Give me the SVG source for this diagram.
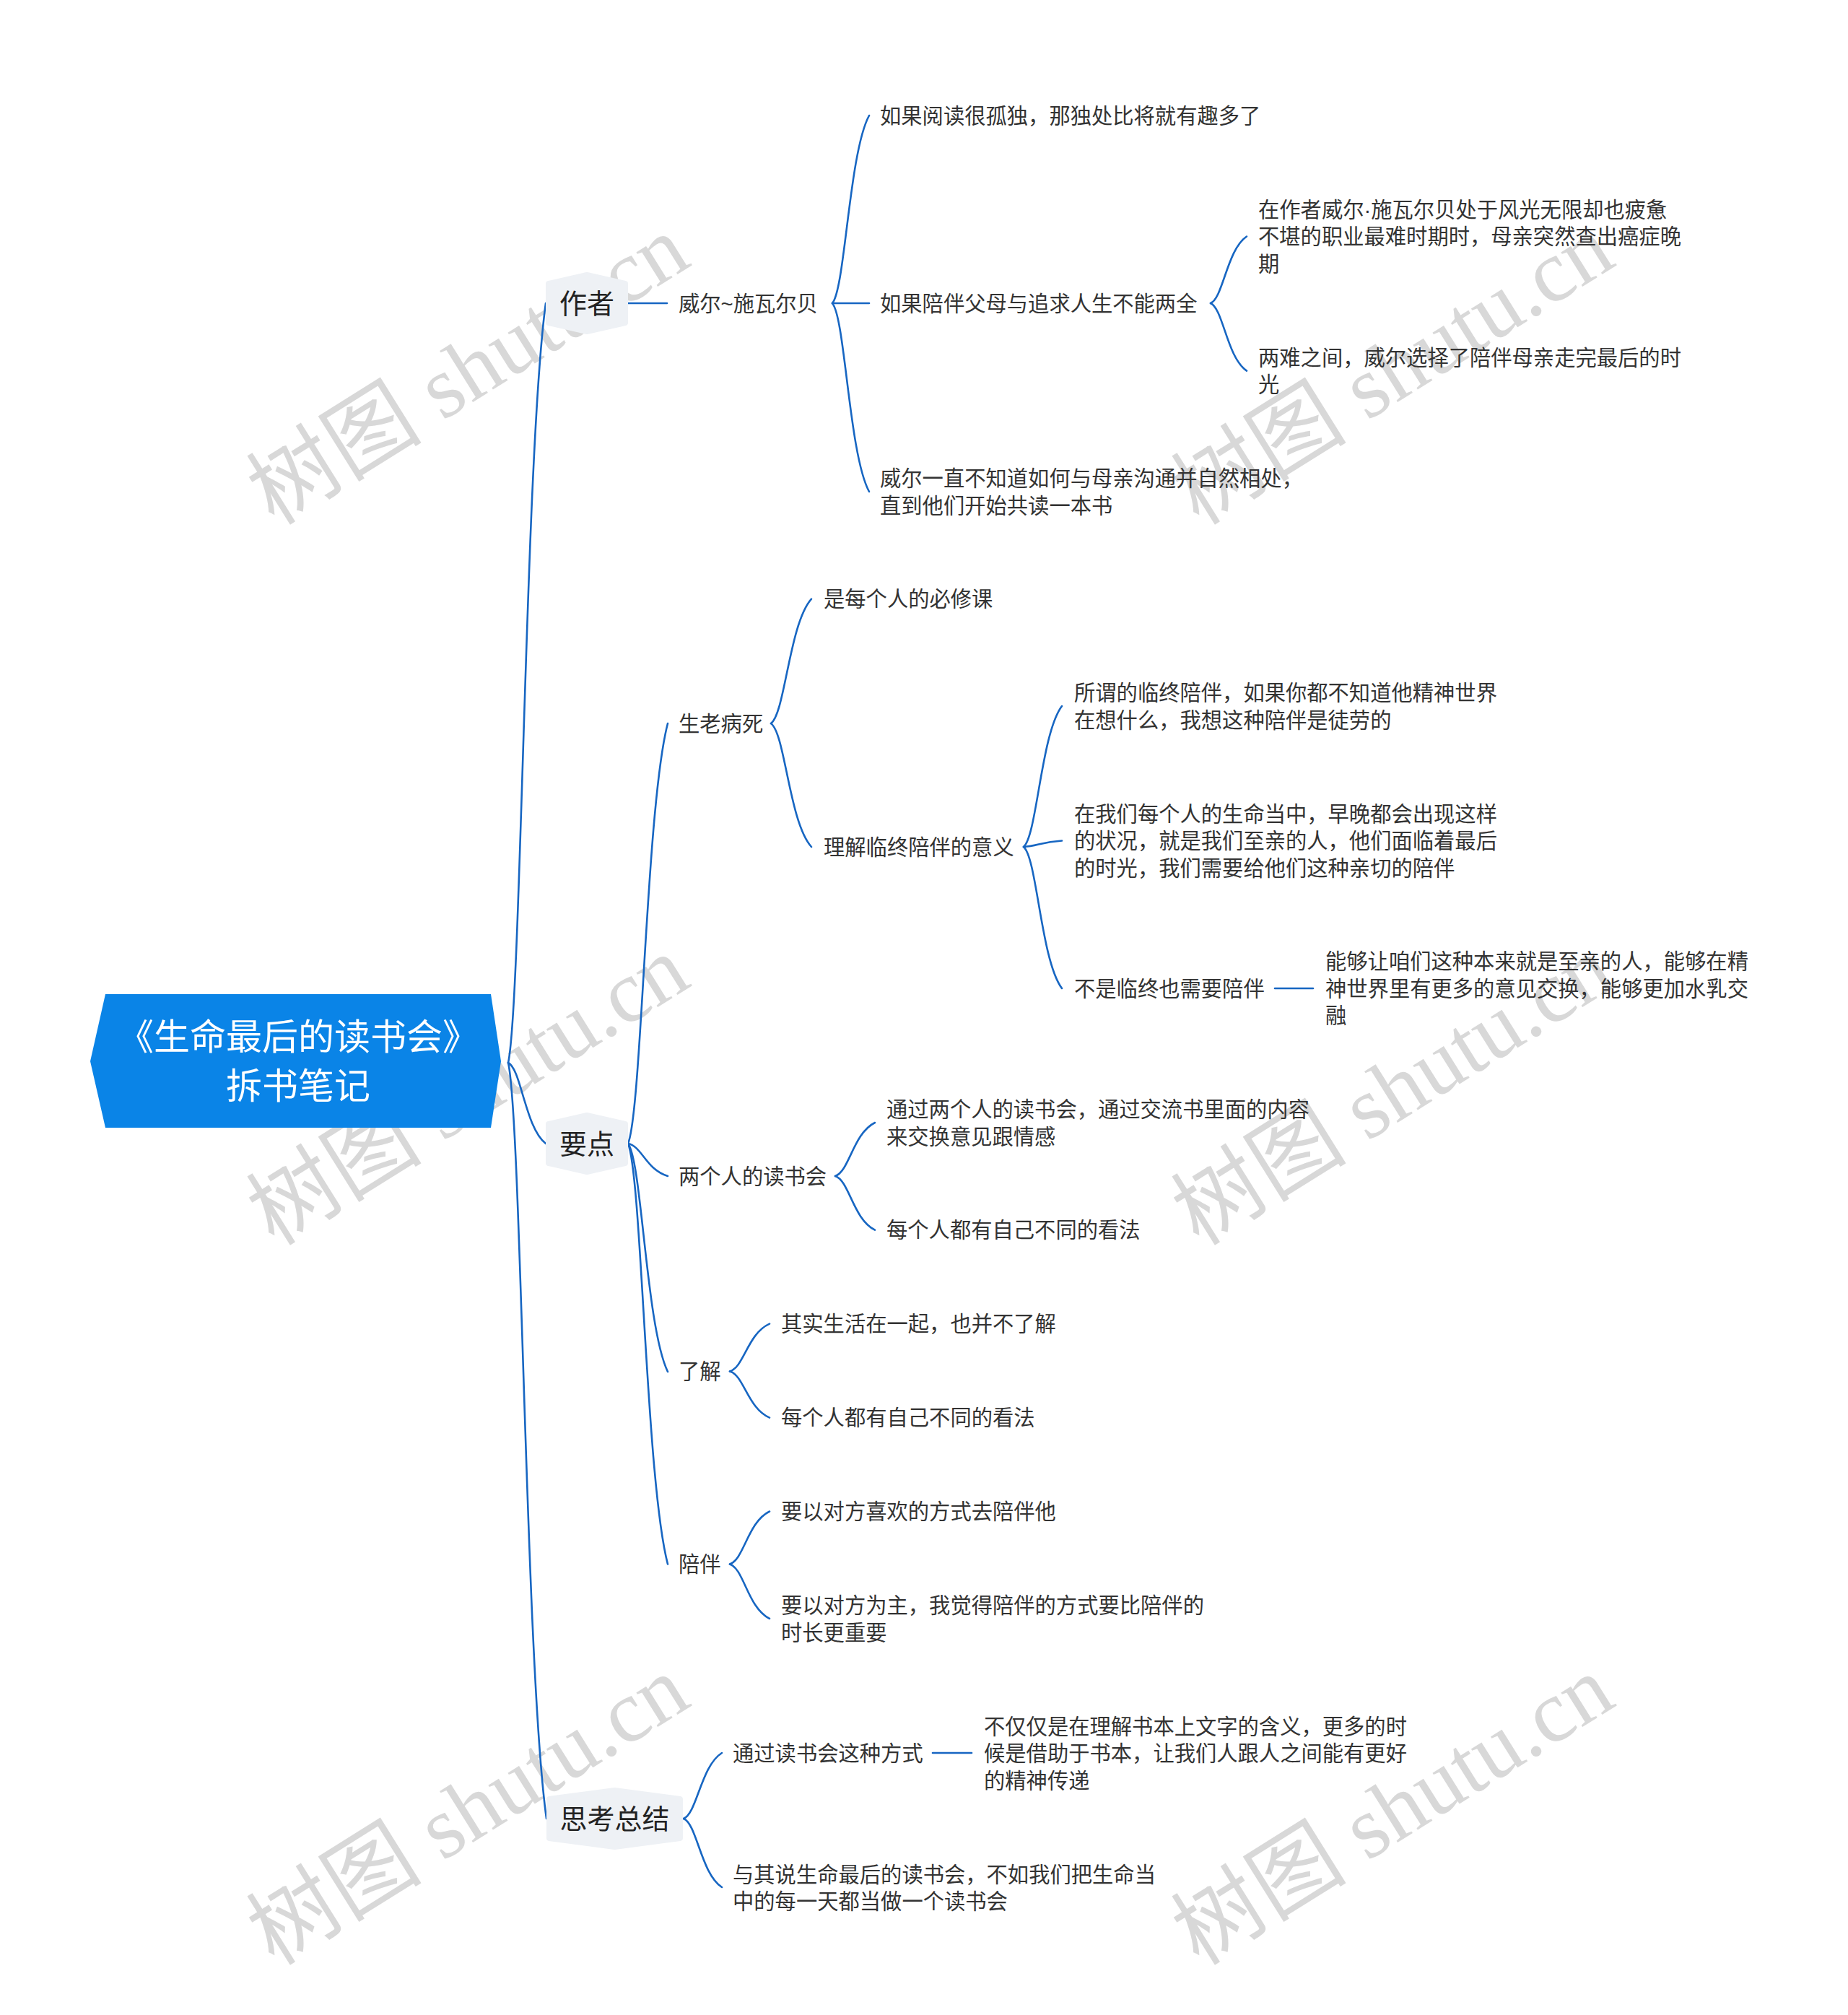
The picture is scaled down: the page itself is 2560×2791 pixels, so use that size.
<svg xmlns="http://www.w3.org/2000/svg" width="2560" height="2791" viewBox="0 0 2560 2791">
<style>
.t { font-family: "Liberation Sans", "Noto Sans CJK SC", sans-serif; font-size: 29.3px; fill: #333333; }
.l1 { font-size: 38px; fill: #222222; text-anchor: middle; }
.rt { font-size: 50px; fill: #ffffff; text-anchor: middle; }
.c { fill: none; stroke: #1766c2; stroke-width: 2.6; stroke-linecap: round; }
.hex { fill: #eef1f5; stroke: #eef1f5; stroke-width: 8; stroke-linejoin: round; }
.wm { font-family: "Liberation Serif", "Noto Sans CJK SC", serif; font-size: 122px; fill: #d8d8d8; text-anchor: middle; }
</style>
<rect x="0" y="0" width="2560" height="2791" fill="#ffffff"/>
<g id="watermarks">
<text class="wm" transform="translate(648,512) rotate(-32)" y="42">树图 shutu.cn</text>
<text class="wm" transform="translate(1929,512) rotate(-32)" y="42">树图 shutu.cn</text>
<text class="wm" transform="translate(648,1510) rotate(-32)" y="42">树图 shutu.cn</text>
<text class="wm" transform="translate(1929,1510) rotate(-32)" y="42">树图 shutu.cn</text>
<text class="wm" transform="translate(648,2507) rotate(-32)" y="42">树图 shutu.cn</text>
<text class="wm" transform="translate(1929,2507) rotate(-32)" y="42">树图 shutu.cn</text>
</g>
<g id="connectors">
<path class="c" d="M704,1472 C722.2,1387.8 727.4,630.4 756,420"/>
<path class="c" d="M704,1472 C722.2,1481 727.4,1561.6 756,1584"/>
<path class="c" d="M704,1472 C722.6,1555.8 727.9,2309.6 757,2519"/>
<path class="c" d="M870,420 L924,420"/>
<path class="c" d="M1153,420 C1170.9,399.2 1176,212 1204,160"/>
<path class="c" d="M1153,420 L1204,420"/>
<path class="c" d="M1153,420 C1170.9,440.9 1176,628.8 1204,681"/>
<path class="c" d="M1677,420 C1694.5,412.6 1699.5,346 1727,327.5"/>
<path class="c" d="M1677,420 C1694.5,427.5 1699.5,494.9 1727,513.6"/>
<path class="c" d="M870,1584 C889.3,1537.4 894.8,1118.4 925,1002"/>
<path class="c" d="M870,1584 C889.3,1587.6 894.8,1620 925,1629"/>
<path class="c" d="M870,1584 C889.3,1609.3 894.8,1836.8 925,1900"/>
<path class="c" d="M870,1584 C889.3,1630.6 894.8,2050 925,2166.5"/>
<path class="c" d="M1068,1002 C1087.6,988.2 1093.2,864.1 1124,829.6"/>
<path class="c" d="M1068,1002 C1087.6,1015.7 1093.2,1138.8 1124,1173"/>
<path class="c" d="M1418,1173 C1436.6,1157.4 1441.9,1017 1471,978"/>
<path class="c" d="M1418,1173 C1436.6,1172.3 1441.9,1166.2 1471,1164.5"/>
<path class="c" d="M1418,1173 C1436.6,1188.7 1441.9,1329.8 1471,1369"/>
<path class="c" d="M1766,1369 L1819,1369"/>
<path class="c" d="M1157,1629 C1176.3,1623.1 1181.8,1569.8 1212,1555"/>
<path class="c" d="M1157,1629 C1176.3,1635 1181.8,1688.8 1212,1703.7"/>
<path class="c" d="M1011,1899.5 C1030.3,1894.2 1035.8,1846.8 1066,1833.6"/>
<path class="c" d="M1011,1899.5 C1030.3,1904.6 1035.8,1950.8 1066,1963.6"/>
<path class="c" d="M1011,2166.5 C1030.3,2160.7 1035.8,2108.1 1066,2093.5"/>
<path class="c" d="M1011,2166.5 C1030.3,2172.5 1035.8,2226.9 1066,2242"/>
<path class="c" d="M947,2519 C965.6,2511.7 970.9,2446.2 1000,2428"/>
<path class="c" d="M947,2519 C965.6,2526.6 970.9,2595 1000,2614"/>
<path class="c" d="M1292,2428 L1346,2428"/>
</g>
<g id="root">
<polygon points="146,1377 680,1377 694,1470 680,1562 146,1562 125,1470" fill="#0a84e7"/>
<text class="t rt" x="413" y="1453.5">《生命最后的读书会》</text>
<text class="t rt" x="413" y="1521.5">拆书笔记</text>
</g>
<g id="n-zuozhe">
<polygon class="hex" points="813,381 866,393 866,447 813,459 760,447 760,393"/>
<text class="t l1" x="813" y="434">作者</text>
</g>
<g id="n-weier"><text class="t" x="940" y="431">威尔~施瓦尔贝</text></g>
<g id="n-a1"><text class="t" x="1219" y="171">如果阅读很孤独，那独处比将就有趣多了</text></g>
<g id="n-a2"><text class="t" x="1219" y="431">如果陪伴父母与追求人生不能两全</text></g>
<g id="n-a2-1"><text class="t" x="1743" y="300.7">在作者威尔·施瓦尔贝处于风光无限却也疲惫</text><text class="t" x="1743" y="338.2">不堪的职业最难时期时，母亲突然查出癌症晚</text><text class="t" x="1743" y="375.7">期</text></g>
<g id="n-a2-2"><text class="t" x="1743" y="505.7">两难之间，威尔选择了陪伴母亲走完最后的时</text><text class="t" x="1743" y="543.2">光</text></g>
<g id="n-a3"><text class="t" x="1219" y="673.2">威尔一直不知道如何与母亲沟通并自然相处，</text><text class="t" x="1219" y="710.7">直到他们开始共读一本书</text></g>
<g id="n-yaodian">
<polygon class="hex" points="813,1545 866,1557 866,1611 813,1623 760,1611 760,1557"/>
<text class="t l1" x="813" y="1598">要点</text>
</g>
<g id="n-b1"><text class="t" x="940" y="1012.7">生老病死</text></g>
<g id="n-b1-1"><text class="t" x="1141" y="840.3">是每个人的必修课</text></g>
<g id="n-b1-2"><text class="t" x="1141" y="1183.7">理解临终陪伴的意义</text></g>
<g id="n-b1-2-1"><text class="t" x="1488" y="970.2">所谓的临终陪伴，如果你都不知道他精神世界</text><text class="t" x="1488" y="1007.7">在想什么，我想这种陪伴是徒劳的</text></g>
<g id="n-b1-2-2"><text class="t" x="1488" y="1137.7">在我们每个人的生命当中，早晚都会出现这样</text><text class="t" x="1488" y="1175.2">的状况，就是我们至亲的人，他们面临着最后</text><text class="t" x="1488" y="1212.7">的时光，我们需要给他们这种亲切的陪伴</text></g>
<g id="n-b1-2-3"><text class="t" x="1488" y="1379.7">不是临终也需要陪伴</text></g>
<g id="n-b1-2-3-1"><text class="t" x="1836" y="1342.2">能够让咱们这种本来就是至亲的人，能够在精</text><text class="t" x="1836" y="1379.7">神世界里有更多的意见交换，能够更加水乳交</text><text class="t" x="1836" y="1417.2">融</text></g>
<g id="n-b2"><text class="t" x="940" y="1639.7">两个人的读书会</text></g>
<g id="n-b2-1"><text class="t" x="1228" y="1547.2">通过两个人的读书会，通过交流书里面的内容</text><text class="t" x="1228" y="1584.7">来交换意见跟情感</text></g>
<g id="n-b2-2"><text class="t" x="1228" y="1714.4">每个人都有自己不同的看法</text></g>
<g id="n-b3"><text class="t" x="940" y="1910.2">了解</text></g>
<g id="n-b3-1"><text class="t" x="1082" y="1844.3">其实生活在一起，也并不了解</text></g>
<g id="n-b3-2"><text class="t" x="1082" y="1974.3">每个人都有自己不同的看法</text></g>
<g id="n-b4"><text class="t" x="940" y="2177.2">陪伴</text></g>
<g id="n-b4-1"><text class="t" x="1082" y="2104.2">要以对方喜欢的方式去陪伴他</text></g>
<g id="n-b4-2"><text class="t" x="1082" y="2234.2">要以对方为主，我觉得陪伴的方式要比陪伴的</text><text class="t" x="1082" y="2271.7">时长更重要</text></g>
<g id="n-sikao">
<polygon class="hex" points="851.5,2480 942,2492 942,2546 851.5,2558 761,2546 761,2492"/>
<text class="t l1" x="851.5" y="2533">思考总结</text>
</g>
<g id="n-c1"><text class="t" x="1015" y="2438.9">通过读书会这种方式</text></g>
<g id="n-c1-1"><text class="t" x="1363" y="2401.7">不仅仅是在理解书本上文字的含义，更多的时</text><text class="t" x="1363" y="2439.2">候是借助于书本，让我们人跟人之间能有更好</text><text class="t" x="1363" y="2476.7">的精神传递</text></g>
<g id="n-c2"><text class="t" x="1015" y="2606.7">与其说生命最后的读书会，不如我们把生命当</text><text class="t" x="1015" y="2644.2">中的每一天都当做一个读书会</text></g>
</svg>
